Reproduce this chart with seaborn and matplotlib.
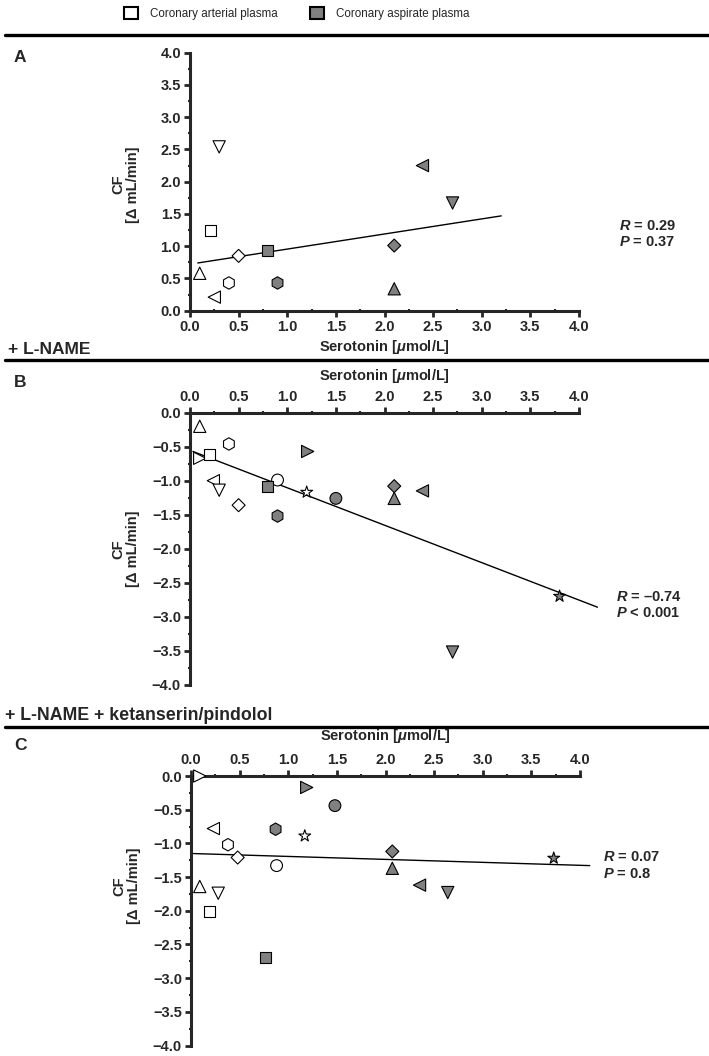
import pandas as pd
import seaborn as sns
import matplotlib.pyplot as plt
from matplotlib import font_manager
from matplotlib.patches import Patch
from matplotlib.lines import Line2D
from matplotlib.ticker import MultipleLocator

# marker shape per subject
markers = {'up': '^', 'down': 'v', 'left': '<', 'right': '>', 'square': 's',
           'diamond': 'D', 'hexagon': 'h', 'circle': 'o', 'star': '*'}
# marker areas so that the shapes look equally big
marker_area = {'up': 78, 'down': 78, 'left': 78, 'right': 78, 'square': 62,
               'diamond': 44, 'hexagon': 80, 'circle': 72, 'star': 80}
palette = {'arterial': 'white', 'aspirate': '#808080'}

x_ticks = [0.0, 0.5, 1.0, 1.5, 2.0, 2.5, 3.0, 3.5, 4.0]
a_y_ticks = [0.0, 0.5, 1.0, 1.5, 2.0, 2.5, 3.0, 3.5, 4.0]
bc_y_ticks = [0.0, -0.5, -1.0, -1.5, -2.0, -2.5, -3.0, -3.5, -4.0]

# panel A (baseline)
a_art_shape = ['down', 'square', 'diamond', 'up', 'hexagon', 'left']
a_art_x = [0.30, 0.21, 0.50, 0.10, 0.40, 0.25]
a_art_y = [2.54, 1.24, 0.85, 0.58, 0.43, 0.21]
a_asp_shape = ['square', 'hexagon', 'diamond', 'up', 'left', 'down']
a_asp_x = [0.80, 0.90, 2.10, 2.10, 2.39, 2.70]
a_asp_y = [0.93, 0.43, 1.01, 0.34, 2.25, 1.67]
a_fit_x = [0.08, 3.20]
a_fit_y = [0.74, 1.47]
a_stats = '$R$ = 0.29\n$P$ = 0.37'

# panel B (+ L-NAME)
b_art_shape = ['up', 'hexagon', 'right', 'square', 'left', 'down', 'circle', 'star', 'diamond']
b_art_x = [0.10, 0.40, 0.10, 0.20, 0.24, 0.30, 0.90, 1.20, 0.50]
b_art_y = [-0.20, -0.46, -0.67, -0.62, -1.00, -1.14, -0.99, -1.17, -1.36]
b_asp_shape = ['right', 'square', 'hexagon', 'circle', 'diamond', 'up', 'left', 'star', 'down']
b_asp_x = [1.21, 0.80, 0.90, 1.50, 2.10, 2.10, 2.39, 3.80, 2.70]
b_asp_y = [-0.57, -1.09, -1.52, -1.26, -1.08, -1.26, -1.15, -2.70, -3.52]
b_fit_x = [0.03, 4.19]
b_fit_y = [-0.57, -2.86]
b_stats = '$R$ = \u20130.74\n$P$ < 0.001'

# panel C (+ L-NAME + ketanserin/pindolol)
c_art_shape = ['right', 'left', 'star', 'hexagon', 'diamond', 'circle', 'up', 'down', 'square']
c_art_x = [0.09, 0.23, 1.17, 0.38, 0.48, 0.88, 0.09, 0.28, 0.19]
c_art_y = [0.00, -0.78, -0.89, -1.02, -1.21, -1.33, -1.64, -1.74, -2.01]
c_asp_shape = ['right', 'circle', 'hexagon', 'diamond', 'up', 'left', 'down', 'square', 'star']
c_asp_x = [1.19, 1.48, 0.87, 2.07, 2.07, 2.35, 2.64, 0.77, 3.73]
c_asp_y = [-0.17, -0.44, -0.79, -1.12, -1.37, -1.62, -1.73, -2.70, -1.22]
c_fit_x = [0.00, 4.10]
c_fit_y = [-1.15, -1.33]
c_stats = '$R$ = 0.07\n$P$ = 0.8'

sns.set_style('ticks')
plt.rcParams['font.family'] = ['Liberation Sans', 'DejaVu Sans']
plt.rcParams['font.weight'] = 'bold'
plt.rcParams['mathtext.fontset'] = 'custom'
plt.rcParams['mathtext.it'] = 'Liberation Sans:italic:bold'
plt.rcParams['mathtext.rm'] = 'Liberation Sans:bold'
plt.rcParams['mathtext.bf'] = 'Liberation Sans:bold'

# legend uses a narrow face when one is installed
installed = {f.name for f in font_manager.fontManager.ttflist}
if 'Liberation Sans Narrow' in installed:
    legend_prop = {'family': 'Liberation Sans Narrow', 'size': 10.3, 'weight': 'normal'}
else:
    legend_prop = {'size': 8.4, 'weight': 'normal'}


def panel_frame(art_x, art_y, art_shape, asp_x, asp_y, asp_shape):
    return pd.DataFrame({
        'serotonin': art_x + asp_x,
        'cf': art_y + asp_y,
        'shape': art_shape + asp_shape,
        'source': ['arterial'] * len(art_x) + ['aspirate'] * len(asp_x),
    })


def fmt(v):
    return f'{v:.1f}'.replace('-', '\u2212')


def draw(ax, df, fit_x, fit_y, y_ticks, top):
    sns.lineplot(x=fit_x, y=fit_y, color='black', linewidth=1.0, ax=ax,
                 clip_on=False, zorder=2)
    sns.scatterplot(data=df, x='serotonin', y='cf', hue='source', style='shape',
                    size='shape', sizes=marker_area, palette=palette, markers=markers,
                    edgecolor='black', linewidth=0.8, legend=False, ax=ax,
                    clip_on=False, zorder=3)
    ax.set_xlim(0, 4)
    ax.set_ylim(min(y_ticks), max(y_ticks))
    ax.set_xticks(x_ticks, labels=[fmt(t) for t in x_ticks], fontsize=10.5, fontweight='bold')
    ax.set_yticks(y_ticks, labels=[fmt(t) for t in y_ticks], fontsize=10.5, fontweight='bold')
    ax.xaxis.set_minor_locator(MultipleLocator(0.25))
    ax.yaxis.set_minor_locator(MultipleLocator(0.25))
    ax.tick_params(which='major', length=4, width=2, direction='out', pad=2.5)
    ax.tick_params(which='minor', length=3, width=1.5, direction='inout')
    sns.despine(ax=ax, top=not top, bottom=top, right=True)
    for side in ['left', 'top', 'bottom']:
        ax.spines[side].set_linewidth(2.2)
    ax.set_xlabel('Serotonin [$\\mu$mol/L]', fontsize=10.5, fontweight='bold', va='center')
    ax.set_ylabel('')
    if top:
        ax.xaxis.tick_top()
        ax.xaxis.set_label_position('top')


fig = plt.figure(figsize=(7.09, 10.56), dpi=100)
W, H = 709, 1056

ax_a = fig.add_axes([190 / W, 1 - 310.7 / H, 389 / W, 258 / H])
ax_b = fig.add_axes([190 / W, 1 - 684.7 / H, 389 / W, 272 / H])
ax_c = fig.add_axes([191 / W, 1 - 1045.5 / H, 389 / W, 269.5 / H])

draw(ax_a, panel_frame(a_art_x, a_art_y, a_art_shape, a_asp_x, a_asp_y, a_asp_shape),
     a_fit_x, a_fit_y, a_y_ticks, top=False)
draw(ax_b, panel_frame(b_art_x, b_art_y, b_art_shape, b_asp_x, b_asp_y, b_asp_shape),
     b_fit_x, b_fit_y, bc_y_ticks, top=True)
draw(ax_c, panel_frame(c_art_x, c_art_y, c_art_shape, c_asp_x, c_asp_y, c_asp_shape),
     c_fit_x, c_fit_y, bc_y_ticks, top=True)

ax_a.xaxis.set_label_coords(0.5, -0.1395)
ax_b.xaxis.set_label_coords(0.5, 1.12)
ax_c.xaxis.set_label_coords(0.5, 1.134)

# y labels and stats
for ax, ylab_y, stats, sx, sy in [(ax_a, 0.49, a_stats, 1.103, 0.297),
                                  (ax_b, 0.5, b_stats, 1.094, 0.293),
                                  (ax_c, 0.592, c_stats, 1.059, 0.668)]:
    ax.text(-0.165, ylab_y, 'CF\n[\u0394 mL/min]', transform=ax.transAxes, rotation=90,
            ha='center', va='center', fontsize=10.5, fontweight='bold',
            linespacing=1.1, multialignment='center')
    ax.text(sx, sy, stats, transform=ax.transAxes, ha='left', va='center',
            fontsize=10.5, fontweight='bold', linespacing=1.2)

# section rules and titles
for y in [35, 360, 727]:
    fig.add_artist(Line2D([5 / W, 1], [1 - y / H] * 2, color='black', lw=2.4,
                          transform=fig.transFigure))
fig.text(14 / W, 1 - 57 / H, 'A', fontsize=12.5, fontweight='bold', va='center')
fig.text(14 / W, 1 - 382 / H, 'B', fontsize=12.5, fontweight='bold', va='center')
fig.text(14 / W, 1 - 746 / H, 'C', fontsize=12.5, fontweight='bold', va='center')
fig.text(8 / W, 1 - 349 / H, '+ L-NAME', fontsize=12.5, fontweight='bold', va='center')
fig.text(5 / W, 1 - 715 / H, '+ L-NAME + ketanserin/pindolol', fontsize=12.8,
         fontweight='bold', va='center')

handles = [Patch(facecolor='white', edgecolor='black', linewidth=1.5,
                 label='Coronary arterial plasma'),
           Patch(facecolor='#808080', edgecolor='black', linewidth=1.5,
                 label='Coronary aspirate plasma')]
fs = legend_prop['size']
fig.legend(handles=handles, loc='upper left', bbox_to_anchor=(124 / W, 1 - 7 / H),
           ncol=2, frameon=False, prop=legend_prop,
           handlelength=14 * 0.72 / fs, handleheight=14 * 0.72 / fs,
           handletextpad=12 * 0.72 / fs, columnspacing=32 * 0.72 / fs,
           borderpad=0, borderaxespad=0)

fig.savefig('out.png', dpi=100)
